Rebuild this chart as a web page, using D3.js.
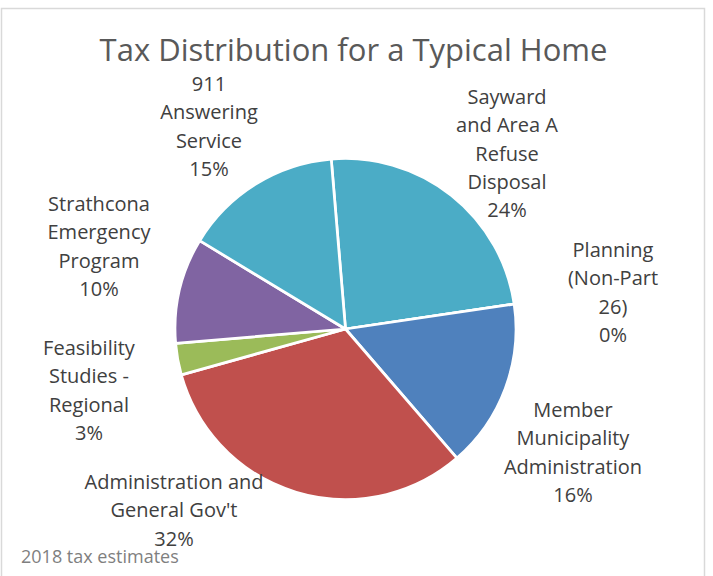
<!DOCTYPE html>
<html>
<head>
<meta charset="utf-8">
<script src="https://cdn.jsdelivr.net/npm/d3@7"></script>
<style>
  html, body { margin: 0; padding: 0; background: #ffffff; }
  svg { display: block; }
</style>
</head>
<body>
<svg id="chart" width="713" height="576"></svg>
<script>
// Tax distribution shares (percent), in drawing order clockwise
const categories = [
  "Sayward and Area A Refuse Disposal",
  "Planning (Non-Part 26)",
  "Member Municipality Administration",
  "Administration and General Gov't",
  "Feasibility Studies - Regional",
  "Strathcona Emergency Program",
  "911 Answering Service"
];
const shares = [24, 0, 16, 32, 3, 10, 15];
const sliceColors = ["#4BACC6", "#F79646", "#4F81BD", "#C0504D", "#9BBB59", "#8064A2", "#4BACC6"];

// Data label text, split into the wrapped lines shown beside each slice
const labelLines = [
  ["Sayward", "and Area A", "Refuse", "Disposal"],
  ["Planning", "(Non-Part", "26)"],
  ["Member", "Municipality", "Administration"],
  ["Administration and", "General Gov't"],
  ["Feasibility", "Studies -", "Regional"],
  ["Strathcona", "Emergency", "Program"],
  ["911", "Answering", "Service"]
];

// Label anchor (centre x, first baseline y) for each slice's label block
const labelAnchors = [
  [507, 104],
  [613, 257],
  [573, 417],
  [174, 489],
  [89, 355],
  [99, 211],
  [209, 91]
];

const titleText = "Tax Distribution for a Typical Home";
const noteText = "2018 tax estimates";

const svg = d3.select("#chart");
const W = 713, H = 576;

// chart area frame
svg.append("rect")
  .attr("x", 1.5).attr("y", 8.5)
  .attr("width", 703).attr("height", 600)
  .attr("fill", "#ffffff")
  .attr("stroke", "#d9d9d9")
  .attr("stroke-width", 1.5);

// title
svg.append("text")
  .attr("x", 353.5).attr("y", 61)
  .attr("text-anchor", "middle")
  .attr("font-family", "'Open Sans', sans-serif")
  .attr("font-size", 31)
  .attr("fill", "#595959")
  .text(titleText);

// pie
const cx = 345.5, cy = 329, radius = 170.5;
const startAngle = -4.8 * Math.PI / 180;

const pie = d3.pie()
  .value(d => d.value)
  .sort(null)
  .startAngle(startAngle)
  .endAngle(startAngle + 2 * Math.PI);

const arc = d3.arc().innerRadius(0).outerRadius(radius);

const data = categories.map((c, i) => ({ name: c, value: shares[i], color: sliceColors[i] }));

const g = svg.append("g").attr("transform", `translate(${cx},${cy})`);
g.selectAll("path.slice")
  .data(pie(data))
  .join("path")
  .attr("class", "slice")
  .attr("d", arc)
  .attr("fill", d => d.data.color)
  .attr("stroke", "#ffffff")
  .attr("stroke-width", 2.75)
  .attr("stroke-linejoin", "round");

// data labels: category lines followed by the percentage
const lineHeight = 28.3;
const labels = svg.append("g")
  .attr("font-family", "'Open Sans', sans-serif")
  .attr("font-size", 20)
  .attr("fill", "#404040")
  .attr("text-anchor", "middle");

data.forEach((d, i) => {
  const [ax, ay] = labelAnchors[i];
  const lines = labelLines[i].concat([d3.format(".0f")(d.value) + "%"]);
  const t = labels.append("text").attr("x", ax).attr("y", ay);
  lines.forEach((ln, k) => {
    t.append("tspan").attr("x", ax).attr("y", ay + k * lineHeight).text(ln);
  });
});

// footnote
svg.append("text")
  .attr("x", 21).attr("y", 562.5)
  .attr("font-family", "'Open Sans', sans-serif")
  .attr("font-size", 18)
  .attr("fill", "#7f7f7f")
  .text(noteText);
</script>
</body>
</html>
